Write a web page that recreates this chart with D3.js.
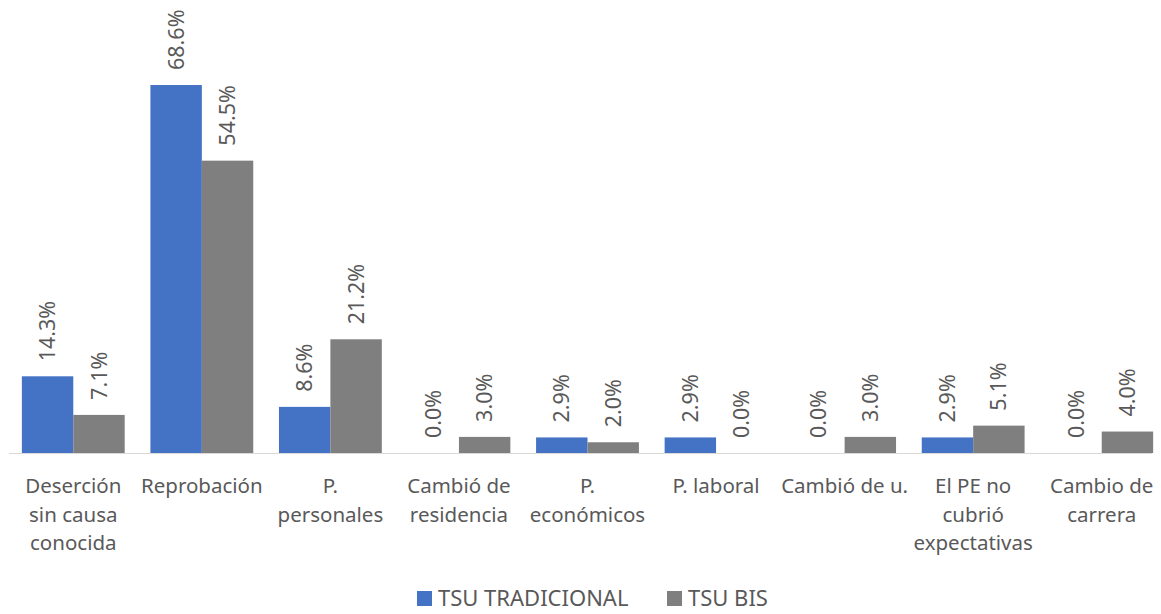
<!DOCTYPE html>
<html>
<head>
<meta charset="utf-8">
<script src="https://cdn.jsdelivr.net/npm/d3@7"></script>
<style>
  body { margin: 0; background: #fff; }
  svg { display: block; font-family: "Noto Sans", "Open Sans", sans-serif; }
</style>
</head>
<body>
<div id="container"></div>
<script>
// data
var categories = [
  ["Deserción", "sin causa", "conocida"],
  ["Reprobación"],
  ["P.", "personales"],
  ["Cambió de", "residencia"],
  ["P.", "económicos"],
  ["P. laboral"],
  ["Cambió de u."],
  ["El PE no", "cubrió", "expectativas"],
  ["Cambio de", "carrera"]
]
var seriesNames = ["TSU TRADICIONAL", "TSU BIS"]
var tradicional = [14.3, 68.6, 8.6, 0.0, 2.9, 2.9, 0.0, 2.9, 0.0]
var bis = [7.1, 54.5, 21.2, 3.0, 2.0, 0.0, 3.0, 5.1, 4.0]
var colors = ["#4472c4", "#7f7f7f"]

var width = 1161, height = 614
var left = 9, right = 1166, baseY = 453

var svg = d3.select("#container").append("svg")
  .attr("width", width).attr("height", height)

var x = d3.scaleBand()
  .domain(d3.range(categories.length))
  .range([left, right])
  .paddingInner(0.2).paddingOuter(0.1)
// bars inside a group
var xs = d3.scaleBand().domain([0, 1]).range([0, x.bandwidth()])

var y = d3.scaleLinear().domain([0, 80]).range([baseY, baseY - 80 * 5.364])

var rows = categories.map(function (c, i) { return [tradicional[i], bis[i]] })

var groups = svg.selectAll("g.grp").data(rows).enter().append("g")
  .attr("class", "grp")
  .attr("transform", function (d, i) { return "translate(" + x(i) + ",0)" })

groups.selectAll("rect").data(function (d) { return d }).enter().append("rect")
  .attr("x", function (d, j) { return xs(j) })
  .attr("width", xs.bandwidth())
  .attr("y", function (d) { return y(d) })
  .attr("height", function (d) { return baseY - y(d) })
  .attr("fill", function (d, j) { return colors[j] })

groups.selectAll("text.val").data(function (d) { return d }).enter().append("text")
  .attr("class", "val")
  .attr("transform", function (d, j) {
    return "translate(" + (xs(j) + xs.bandwidth() / 2) + "," + (y(d) - 15) + ") rotate(-90)"
  })
  .attr("dy", "0.35em")
  .attr("fill", "#595959")
  .style("font-size", "21.5px")
  .text(function (d) { return d.toFixed(1) + "%" })

// axis line
svg.append("line")
  .attr("x1", left).attr("x2", 1152)
  .attr("y1", baseY + 0.5).attr("y2", baseY + 0.5)
  .attr("stroke", "#d9d9d9").attr("stroke-width", 1)

// category labels
var catLab = svg.selectAll("text.cat").data(categories).enter().append("text")
  .attr("class", "cat")
  .attr("text-anchor", "middle")
  .attr("fill", "#595959")
  .style("font-size", "20.5px")
catLab.selectAll("tspan").data(function (d, i) { return d.map(function (t) { return { t: t, i: i } }) })
  .enter().append("tspan")
  .attr("x", function (d) { return x(d.i) + x.bandwidth() / 2 })
  .attr("y", function (d, k) { return 493 + k * 28.7 })
  .text(function (d) { return d.t })

// legend
var legend = svg.append("g")
var lx = [417, 667]
seriesNames.forEach(function (n, i) {
  legend.append("rect").attr("x", lx[i]).attr("y", 591).attr("width", 15).attr("height", 15)
    .attr("fill", colors[i])
  legend.append("text").attr("x", lx[i] + 21).attr("y", 606)
    .attr("fill", "#595959").style("font-size", "22px").text(n)
})
</script>
</body>
</html>
